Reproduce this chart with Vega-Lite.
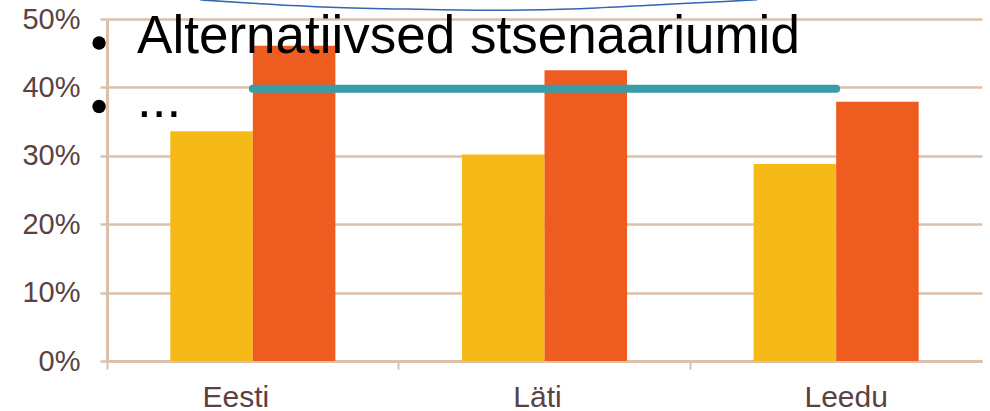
{
  "$schema": "https://vega.github.io/schema/vega-lite/v6.json",
  "width": 875,
  "height": 342,
  "autosize": "none",
  "padding": {"left": 107, "top": 19, "right": 8, "bottom": 50},
  "background": "white",
  "config": {"view": {"stroke": null}, "font": "Liberation Sans"},
  "datasets": {
    "bars": [
      {"riik": "Eesti", "seeria": "1", "osakaal": 0.336},
      {"riik": "Eesti", "seeria": "2", "osakaal": 0.461},
      {"riik": "Läti", "seeria": "1", "osakaal": 0.302},
      {"riik": "Läti", "seeria": "2", "osakaal": 0.425},
      {"riik": "Leedu", "seeria": "1", "osakaal": 0.288},
      {"riik": "Leedu", "seeria": "2", "osakaal": 0.379}
    ],
    "target": [{"from": "Eesti", "to": "Leedu", "value": 0.398}],
    "lines": [
      {"txt": "Alternatiivsed stsenaariumid", "y": 0.451, "bulletY": 0.465},
      {"txt": "...", "y": 0.356, "bulletY": 0.372}
    ],
    "arc": [
      {"u": 0.319, "h": 0.528},
      {"u": 0.525, "h": 0.5224},
      {"u": 0.765, "h": 0.5173},
      {"u": 1.073, "h": 0.5143},
      {"u": 1.337, "h": 0.5129},
      {"u": 1.622, "h": 0.5151},
      {"u": 1.896, "h": 0.5209},
      {"u": 2.102, "h": 0.5253},
      {"u": 2.229, "h": 0.5282}
    ]
  },
  "layer": [
    {
      "layer": [
        {
          "data": {"name": "bars"},
          "mark": {"type": "bar"},
          "encoding": {
            "x": {
              "field": "riik",
              "type": "nominal",
              "scale": {"domain": ["Eesti", "Läti", "Leedu"], "paddingInner": 0.434, "paddingOuter": 0.217},
              "axis": {
                "title": null,
                "bandPosition": -0.383,
                "labelOffset": {
                  "condition": [
                    {"test": "datum.value === 'Eesti'", "value": -17},
                    {"test": "datum.value === 'Läti'", "value": -7}
                  ],
                  "value": 10
                },
                "labelAngle": 0,
                "labelAlign": "center",
                "tickSize": 8,
                "tickColor": "#DBC1AC",
                "tickWidth": 2,
                "domainColor": "#DBC1AC",
                "domainWidth": 3,
                "labelFontSize": 30,
                "labelFont": "Liberation Sans",
                "labelColor": "#5A4242",
                "labelPadding": 13,
                "grid": false
              }
            },
            "xOffset": {"field": "seeria", "type": "nominal", "scale": {"paddingInner": 0, "paddingOuter": 0}},
            "y": {
              "field": "osakaal",
              "type": "quantitative",
              "scale": {"domain": [0, 0.5], "nice": false},
              "axis": {
                "title": null,
                "format": ".0%",
                "values": [0, 0.1, 0.2, 0.3, 0.4, 0.5],
                "grid": true,
                "gridColor": "#DBC1AC",
                "gridWidth": 2.5,
                "domainColor": "#DBC1AC",
                "domainWidth": 3,
                "tickColor": "#DBC1AC",
                "tickWidth": 2.5,
                "tickSize": 7,
                "labelFontSize": 29,
                "labelFont": "Liberation Sans",
                "labelColor": "#5A4242",
                "labelPadding": 20
              }
            },
            "color": {
              "field": "seeria",
              "type": "nominal",
              "scale": {"domain": ["1", "2"], "range": ["#F6BA18", "#EE5C20"]},
              "legend": null
            }
          }
        },
        {
          "data": {"name": "target"},
          "mark": {"type": "rule", "strokeWidth": 8, "strokeCap": "round", "color": "#3A9CA6"},
          "encoding": {
            "x": {"field": "from", "type": "nominal"},
            "x2": {"field": "to"},
            "y": {"field": "value", "type": "quantitative"}
          }
        },
        {
          "data": {"name": "lines"},
          "mark": {"type": "text", "align": "left", "baseline": "alphabetic", "fontSize": 53, "dx": 30, "color": "black", "font": "Liberation Sans"},
          "encoding": {
            "x": {"datum": "Eesti", "type": "nominal", "bandPosition": -0.383},
            "y": {"field": "y", "type": "quantitative"},
            "text": {"field": "txt"}
          }
        },
        {
          "data": {"name": "lines"},
          "mark": {"type": "point", "filled": true, "shape": "circle", "size": 180, "color": "black", "opacity": 1, "xOffset": -8},
          "encoding": {
            "x": {"datum": "Eesti", "type": "nominal", "bandPosition": -0.383},
            "y": {"field": "bulletY", "type": "quantitative"}
          }
        }
      ]
    },
    {
      "data": {"name": "arc"},
      "mark": {"type": "line", "interpolate": "monotone", "color": "#3465B0", "strokeWidth": 1.5, "clip": false},
      "encoding": {
        "x": {"field": "u", "type": "quantitative", "scale": {"domain": [0, 3], "nice": false, "zero": false}, "axis": null},
        "y": {"field": "h", "type": "quantitative"}
      }
    }
  ],
  "resolve": {"scale": {"x": "independent"}}
}
